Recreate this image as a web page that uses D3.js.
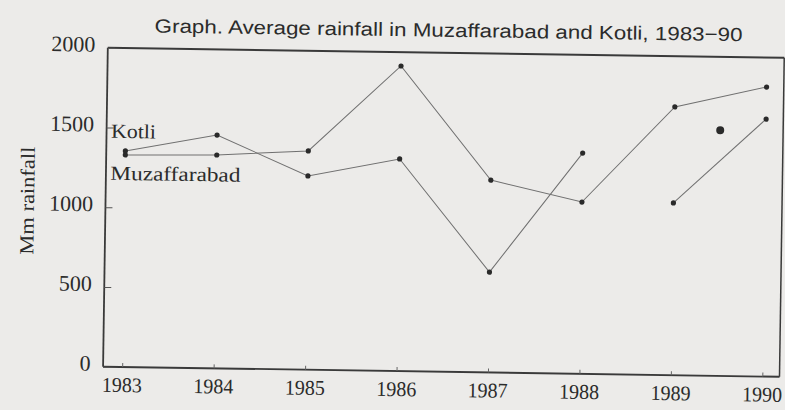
<!DOCTYPE html>
<html>
<head>
<meta charset="utf-8">
<script src="https://cdn.jsdelivr.net/npm/d3@7"></script>
<style>
  body { margin: 0; background: #ecebe9; }
  svg { display: block; }
</style>
</head>
<body>
<svg id="chart"></svg>
<script>
// data
const years = [1983, 1984, 1985, 1986, 1987, 1988, 1989, 1990];
const kotli = [1355, 1463, 1215, 1330, 629, 1384, 1080, 1614];
const muzaffarabad = [1330, 1338, 1372, 1913, 1206, 1077, 1682, 1815];
// the Kotli line is not joined between 1988 and 1989 in the source
const kotliRuns = [[1983, 1988], [1989, 1990]];
const yTicks = [0, 500, 1000, 1500, 2000];
const blot = {year: 1989.5, mm: 1540}; // stray ink dot on the page

const width = 785, height = 410;
const margin = {top: 52, bottom: 39, left: 105.5, right: 3};

const svg = d3.select("#chart")
    .attr("width", width)
    .attr("height", height)
    .style("background", "#ecebe9");

// the page was scanned a little crooked
const g = svg.append("g")
    .attr("transform", "rotate(0.85, 392, 205)");

const x = d3.scaleLinear()
    .domain([1983, 1990])
    .range([124.6, 764.8]);

const y = d3.scaleLinear()
    .domain([0, 2000])
    .range([height - margin.bottom, margin.top]);

const serif = "'Liberation Serif', 'Times New Roman', serif";

// title
g.append("text")
    .attr("x", 152)
    .attr("y", 36)
    .attr("textLength", 588)
    .attr("lengthAdjust", "spacingAndGlyphs")
    .style("font-family", "'Liberation Sans', Arial, sans-serif")
    .style("font-size", "19px")
    .style("fill", "#2b2b2b")
    .text("Graph. Average rainfall in Muzaffarabad and Kotli, 1983\u221290");

// frame
const frame = g.append("g").style("stroke", "#3a3a3a").style("fill", "none");
frame.append("line")
    .attr("x1", margin.left).attr("x2", width - margin.right)
    .attr("y1", margin.top).attr("y2", margin.top)
    .style("stroke-width", 2);
frame.append("line")
    .attr("x1", margin.left).attr("x2", width - margin.right)
    .attr("y1", height - margin.bottom).attr("y2", height - margin.bottom)
    .style("stroke-width", 1.8);
frame.append("line")
    .attr("x1", margin.left).attr("x2", margin.left)
    .attr("y1", margin.top).attr("y2", height - margin.bottom)
    .style("stroke-width", 1.8);
frame.append("line")
    .attr("x1", width - margin.right).attr("x2", width - margin.right)
    .attr("y1", margin.top).attr("y2", height - margin.bottom)
    .style("stroke-width", 1.5);

// axes, ticks pointing inward
const yAxis = g.append("g")
    .attr("transform", `translate(${margin.left},0)`)
    .call(d3.axisRight(y).tickValues(yTicks).tickSize(7).tickFormat(""));
yAxis.select(".domain").remove();
yAxis.selectAll("line").style("stroke", "#555");

g.append("g").selectAll("text")
    .data(yTicks)
    .enter().append("text")
    .attr("x", 93)
    .attr("y", d => y(d) - 3.5)
    .attr("dy", "0.35em")
    .attr("text-anchor", "end")
    .style("font-family", serif)
    .style("font-size", "22px")
    .style("fill", "#2b2b2b")
    .text(d => d);

const xAxis = g.append("g")
    .attr("transform", `translate(0,${height - margin.bottom})`)
    .call(d3.axisTop(x).tickValues(years).tickSize(4).tickFormat(""));
xAxis.select(".domain").remove();
xAxis.selectAll("line").style("stroke", "#666");

g.append("g").selectAll("text")
    .data(years)
    .enter().append("text")
    .attr("x", d => x(d))
    .attr("y", height - margin.bottom + 25)
    .attr("text-anchor", "middle")
    .attr("textLength", 40)
    .attr("lengthAdjust", "spacingAndGlyphs")
    .style("font-family", serif)
    .style("font-size", "21px")
    .style("fill", "#2b2b2b")
    .text(d => d);

// y axis title
g.append("text")
    .attr("transform", "translate(34,206) rotate(-90)")
    .attr("text-anchor", "middle")
    .attr("textLength", 108)
    .attr("lengthAdjust", "spacingAndGlyphs")
    .style("font-family", serif)
    .style("font-size", "20px")
    .style("fill", "#2b2b2b")
    .text("Mm rainfall");

// lines
const line = d3.line()
    .x(d => x(d.year))
    .y(d => y(d.mm));

const muzData = years.map((yr, i) => ({year: yr, mm: muzaffarabad[i]}));
const kotliData = years.map((yr, i) => ({year: yr, mm: kotli[i]}));

g.append("path")
    .datum(muzData)
    .attr("d", line)
    .style("fill", "none")
    .style("stroke", "#707070")
    .style("stroke-width", 1);

kotliRuns.forEach(function(run) {
    g.append("path")
        .datum(kotliData.filter(d => d.year >= run[0] && d.year <= run[1]))
        .attr("d", line)
        .style("fill", "none")
        .style("stroke", "#707070")
        .style("stroke-width", 1);
});

// points
g.selectAll("circle.pt")
    .data(muzData.concat(kotliData))
    .enter().append("circle")
    .attr("class", "pt")
    .attr("cx", d => x(d.year))
    .attr("cy", d => y(d.mm))
    .attr("r", 2.6)
    .style("fill", "#2a2a2a");

g.append("circle")
    .attr("cx", x(blot.year))
    .attr("cy", y(blot.mm))
    .attr("r", 4)
    .style("fill", "#2a2a2a");

// series labels
g.append("text")
    .attr("x", 110)
    .attr("y", 142)
    .attr("textLength", 45)
    .attr("lengthAdjust", "spacingAndGlyphs")
    .style("font-family", serif)
    .style("font-size", "20px")
    .style("fill", "#2b2b2b")
    .text("Kotli");

g.append("text")
    .attr("x", 110)
    .attr("y", 184)
    .attr("textLength", 130)
    .attr("lengthAdjust", "spacingAndGlyphs")
    .style("font-family", serif)
    .style("font-size", "20px")
    .style("fill", "#2b2b2b")
    .text("Muzaffarabad");
</script>
</body>
</html>
